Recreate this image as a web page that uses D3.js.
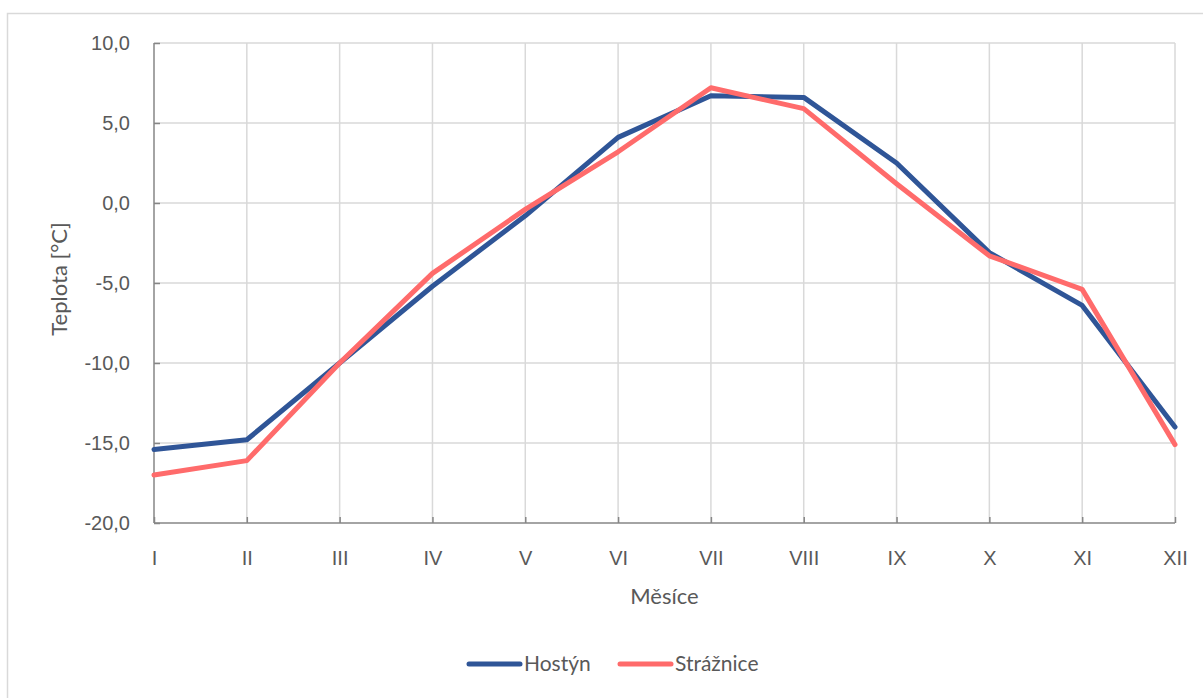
<!DOCTYPE html>
<html>
<head>
<meta charset="utf-8">
<script src="https://cdn.jsdelivr.net/npm/d3@7/dist/d3.min.js"></script>
<style>
  html, body { margin: 0; padding: 0; background: #ffffff; }
  svg { display: block; font-family: Lato, "Open Sans", sans-serif; }
</style>
</head>
<body>
<svg id="chart" width="1203" height="698"></svg>
<script>
// Monthly mean temperatures (°C)
const months = ["I", "II", "III", "IV", "V", "VI", "VII", "VIII", "IX", "X", "XI", "XII"];
const hostyn = [-15.4, -14.8, -10.0, -5.2, -0.8, 4.1, 6.7, 6.6, 2.5, -3.1, -6.4, -14.0];
const straznice = [-17.0, -16.1, -10.0, -4.4, -0.4, 3.2, 7.2, 5.9, 1.2, -3.3, -5.4, -15.1];
const seriesNames = ["Hostýn", "Strážnice"];
const yTicks = [-20, -15, -10, -5, 0, 5, 10];

const colors = { "Hostýn": "#2F5597", "Strážnice": "#FF6B6B" };
const series = [
  { name: seriesNames[0], values: hostyn },
  { name: seriesNames[1], values: straznice }
];

const svg = d3.select("#chart");
const margin = { left: 154, right: 28, top: 43, bottom: 175 };
const W = 1203, H = 698;
const plotW = W - margin.left - margin.right;
const plotH = H - margin.top - margin.bottom;

// Chart frame
svg.append("rect")
  .attr("x", 7.5).attr("y", 13.5)
  .attr("width", 1210).attr("height", 700)
  .attr("fill", "#ffffff").attr("stroke", "#d9d9d9").attr("stroke-width", 1.5);

const x = d3.scalePoint().domain(months).range([0, plotW]);
const y = d3.scaleLinear().domain([-20, 10]).range([plotH, 0]);

const g = svg.append("g").attr("transform", `translate(${margin.left},${margin.top})`);

const fmt = v => d3.format(".1f")(v).replace(".", ",").replace("−", "-");

// Horizontal gridlines
g.append("g")
  .selectAll("line").data(yTicks.filter(t => t > -20)).join("line")
  .attr("x1", 0).attr("x2", plotW)
  .attr("y1", d => y(d)).attr("y2", d => y(d))
  .attr("stroke", "#d9d9d9").attr("stroke-width", 1.5);

// Vertical gridlines
g.append("g")
  .selectAll("line").data(months.slice(1)).join("line")
  .attr("x1", d => x(d)).attr("x2", d => x(d))
  .attr("y1", 0).attr("y2", plotH)
  .attr("stroke", "#d9d9d9").attr("stroke-width", 1.5);

// Y axis
const yAxis = g.append("g")
  .call(d3.axisLeft(y).tickValues(yTicks).tickSize(6).tickPadding(18).tickFormat(fmt));
yAxis.select(".domain").attr("stroke", "#868686").attr("stroke-width", 1.5).attr("d", `M0,0V${plotH}`);
yAxis.selectAll(".tick line").attr("stroke", "#868686").attr("stroke-width", 1.5).attr("x1", 0).attr("x2", 6);
yAxis.selectAll(".tick text").attr("fill", "#595959").style("font-size", "20px");

// X axis
const xAxis = g.append("g")
  .attr("transform", `translate(0,${plotH})`)
  .call(d3.axisBottom(x).tickSize(6).tickPadding(22));
xAxis.select(".domain").attr("stroke", "#868686").attr("stroke-width", 1.5).attr("d", `M0,0H${plotW}`);
xAxis.selectAll(".tick line").attr("stroke", "#868686").attr("stroke-width", 1.5).attr("y1", 0).attr("y2", -6);
xAxis.selectAll(".tick text").attr("fill", "#595959").style("font-size", "20px");

// Series lines
const line = d3.line().x((d, i) => x(months[i])).y(d => y(d));
g.append("g")
  .selectAll("path").data(series).join("path")
  .attr("d", d => line(d.values))
  .attr("fill", "none")
  .attr("stroke", d => colors[d.name])
  .attr("stroke-width", 5)
  .attr("stroke-linejoin", "round")
  .attr("stroke-linecap", "round");

// Axis titles
svg.append("text")
  .attr("x", margin.left + plotW / 2).attr("y", 604)
  .attr("text-anchor", "middle").attr("fill", "#595959").style("font-size", "22px")
  .text("Měsíce");

svg.append("text")
  .attr("transform", `translate(67,${margin.top + plotH / 2 - 4}) rotate(-90)`)
  .attr("text-anchor", "middle").attr("fill", "#595959").style("font-size", "22px")
  .text("Teplota [°C]");

// Legend
const legendItems = [
  { name: seriesNames[0], x0: 467 },
  { name: seriesNames[1], x0: 618 }
];
const lg = svg.append("g");
legendItems.forEach(it => {
  lg.append("line")
    .attr("x1", it.x0 + 2).attr("x2", it.x0 + 53)
    .attr("y1", 664).attr("y2", 664)
    .attr("stroke", colors[it.name]).attr("stroke-width", 5).attr("stroke-linecap", "round");
  lg.append("text")
    .attr("x", it.x0 + 57).attr("y", 671)
    .attr("fill", "#595959").style("font-size", "21px")
    .text(it.name);
});
</script>
</body>
</html>
